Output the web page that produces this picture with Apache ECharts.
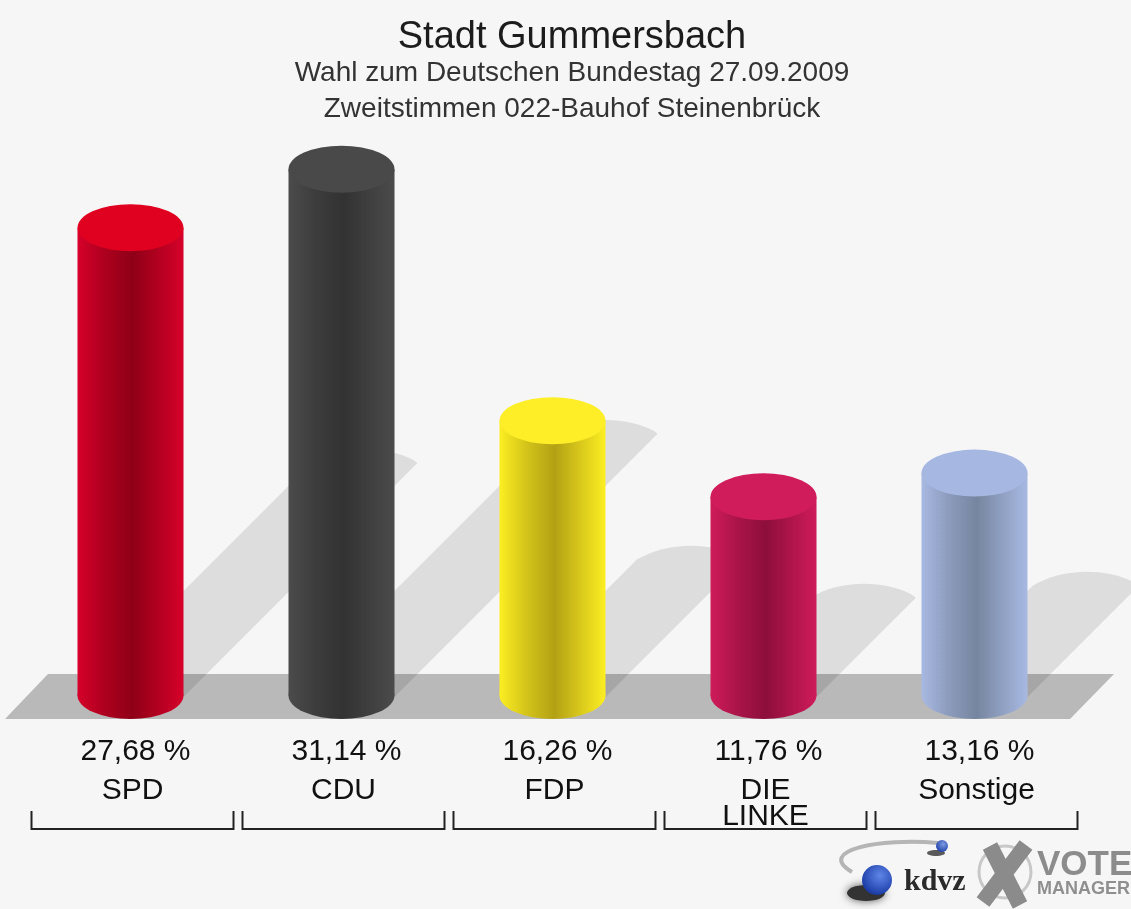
<!DOCTYPE html>
<html style="height: 100%; width: 100%">

<head>
  <meta charset="utf-8" />
  <style>
    body { margin: 0; background: #f6f6f6; }
    #chart-panel { width: 1131px; height: 909px; filter: blur(0.5px); }
  </style>
</head>

<body>
  <div id="chart-panel"></div>
  <script src="https://cdn.jsdelivr.net/npm/echarts@6/dist/echarts.min.js"></script>
  <script>
    const categories = ["SPD", "CDU", "FDP", "DIE\nLINKE", "Sonstige"];
    const values = [27.68, 31.14, 16.26, 11.76, 13.16];
    const titleText = "Stadt Gummersbach";
    const subText = "Wahl zum Deutschen Bundestag 27.09.2009\nZweitstimmen 022-Bauhof Steinenbrück";

    // [kante, mitte, deckel]
    const barColors = [
      ["#d6002a", "#8e0016", "#e0001f"],
      ["#4b4b4b", "#323232", "#494949"],
      ["#fcee22", "#b3a114", "#fdee28"],
      ["#cf1b5a", "#8d0e3b", "#d01c5a"],
      ["#a8b9e2", "#76859f", "#a6b8e2"],
    ];

    const BAR_W = 106;
    const CAP_H = 47;
    const FONT = '"Liberation Sans", Arial, sans-serif';

    function sideColor(c) {
      return {
        type: "linear", x: 0, y: 0, x2: 1, y2: 0,
        colorStops: [
          { offset: 0, color: c[0] },
          { offset: 0.25, color: echarts.color.lerp(0.55, [c[0], c[1]]) },
          { offset: 0.52, color: c[1] },
          { offset: 0.78, color: echarts.color.lerp(0.45, [c[0], c[1]]) },
          { offset: 1, color: c[0] },
        ],
      };
    }

    // schatten laeuft schraeg nach rechts oben, halbe saeulenhoehe
    function renderShadow(params, api) {
      const base = api.coord([api.value(0), 0]);
      const top = api.coord([api.value(0), api.value(1)]);
      const d = (base[1] - top[1]) * 0.5;
      const l = base[0] - BAR_W / 2, r = base[0] + BAR_W / 2;
      const y0 = base[1] + 1.5, ty = y0 - d;
      const path = `M${l} ${y0}L${l + d} ${ty}` +
        `C${l + d + 28} ${ty - 17} ${r + d - 34} ${ty - 19} ${r + d - 4} ${ty - 3}` +
        `L${r + d} ${ty}L${r} ${y0}Z`;
      return { type: "path", shape: { pathData: path }, style: { fill: "rgba(0,0,0,0.1)" } };
    }

    function renderBracket(params, api) {
      const c = api.coord([api.value(0), 0])[0] + 2;
      return {
        type: "polyline",
        shape: { points: [[c - 101, 811], [c - 101, 829], [c + 101, 829], [c + 101, 811]] },
        style: { fill: null, stroke: "#222", lineWidth: 2 },
      };
    }

    const myChart = echarts.init(document.getElementById("chart-panel"));

    const option = {
      animation: false,
      backgroundColor: "#f6f6f6",
      title: {
        text: titleText,
        subtext: subText,
        left: 567,
        top: 14,
        textAlign: "center",
        itemGap: -2,
        textStyle: { fontFamily: FONT, fontSize: 38, fontWeight: "normal", color: "#1c1c1c" },
        subtextStyle: { fontFamily: FONT, fontSize: 28, color: "#333", lineHeight: 36 },
      },
      grid: { left: 25, width: 1055, top: 104, height: 591.5 },
      xAxis: {
        type: "category",
        data: categories,
        axisLine: { show: false },
        axisTick: { show: false },
        axisLabel: {
          interval: 0,
          margin: 30,
          fontFamily: FONT,
          formatter: function (name, i) {
            const pct = values[i].toFixed(2).replace(".", ",") + " %";
            const lines = name.split("\n").map(n => `{n|${n}}`).join("\n");
            return `{v|${pct}}\n${lines}`;
          },
          rich: {
            v: { fontFamily: FONT, fontSize: 30, color: "#111", lineHeight: 52, padding: [0, 0, 0, 10] },
            n: { fontFamily: FONT, fontSize: 30, color: "#111", lineHeight: 26, padding: [0, 0, 0, 4] },
          },
        },
      },
      yAxis: { type: "value", min: 0, max: 35, show: false },
      series: [
        {
          name: "schatten",
          type: "custom",
          z: 1,
          clip: false,
          data: values.map((v, i) => [i, v]),
          renderItem: renderShadow,
        },
        {
          name: "saeule",
          type: "bar",
          z: 2,
          barWidth: BAR_W,
          data: values.map((v, i) => ({ value: v, itemStyle: { color: sideColor(barColors[i]) } })),
        },
        {
          name: "boden",
          type: "pictorialBar",
          z: 2,
          symbol: "circle",
          symbolPosition: "start",
          symbolOffset: [0, "50%"],
          symbolSize: [BAR_W, CAP_H],
          data: values.map((v, i) => ({ value: v, itemStyle: { color: sideColor(barColors[i]) } })),
        },
        {
          name: "deckel",
          type: "pictorialBar",
          z: 3,
          symbol: "circle",
          symbolPosition: "end",
          symbolOffset: [0, "-50%"],
          symbolSize: [BAR_W, CAP_H],
          data: values.map((v, i) => ({ value: v, itemStyle: { color: barColors[i][2] } })),
        },
        {
          name: "klammer",
          type: "custom",
          z: 3,
          clip: false,
          data: values.map((v, i) => [i, v]),
          renderItem: renderBracket,
        },
      ],
      graphic: [
        // bodenflaeche
        { type: "polygon", z: 0, shape: { points: [[5, 719], [48, 674], [1114, 674], [1070, 719]] }, style: { fill: "#b9b9b9" } },
        // kdvz logo
        { type: "bezierCurve", z: 5, shape: { x1: 938, y1: 843, cpx1: 880, cpy1: 838, cpx2: 815, cpy2: 850, x2: 852, y2: 872 }, style: { fill: "none", stroke: "#b5b5b5", lineWidth: 4 } },
        { type: "ellipse", z: 5, shape: { cx: 936, cy: 853, rx: 9, ry: 3 }, style: { fill: "#333", opacity: 0.8 } },
        { type: "circle", z: 5, shape: { cx: 942, cy: 846, r: 6 }, style: { fill: { type: "radial", x: 0.6, y: 0.35, r: 0.7, colorStops: [{ offset: 0, color: "#7f9be0" }, { offset: 1, color: "#1c3fa8" }] } } },
        { type: "ellipse", z: 5, shape: { cx: 866, cy: 893, rx: 19, ry: 8 }, style: { fill: "#333", shadowBlur: 9, shadowColor: "#555" } },
        { type: "circle", z: 5, shape: { cx: 877, cy: 880, r: 15 }, style: { fill: { type: "radial", x: 0.6, y: 0.35, r: 0.75, colorStops: [{ offset: 0, color: "#5f86e8" }, { offset: 1, color: "#10309c" }] } } },
        { type: "text", z: 5, x: 904, y: 867, style: { text: "kdvz", fontFamily: '"Liberation Serif", serif', fontWeight: "bold", fontSize: 30, fill: "#2a2a2a" } },
        // vote manager
        { type: "circle", z: 5, shape: { cx: 1005, cy: 872, r: 26 }, style: { fill: "none", stroke: "#c8c8c8", lineWidth: 3 } },
        { type: "line", z: 6, shape: { x1: 990, y1: 846, x2: 1020, y2: 905 }, style: { stroke: "#8b8b8b", lineWidth: 16 } },
        { type: "line", z: 6, shape: { x1: 1026, y1: 845, x2: 983, y2: 902 }, style: { stroke: "#8b8b8b", lineWidth: 16 } },
        { type: "text", z: 5, x: 1037, y: 848, style: { text: "VOTE", fontFamily: FONT, fontWeight: "bold", fontSize: 35, fill: "#8c8c8c" } },
        { type: "text", z: 5, x: 1037, y: 880, style: { text: "MANAGER", fontFamily: FONT, fontWeight: "bold", fontSize: 18, fill: "#8f8f8f" } },
      ],
    };

    myChart.setOption(option);
  </script>
</body>

</html>
